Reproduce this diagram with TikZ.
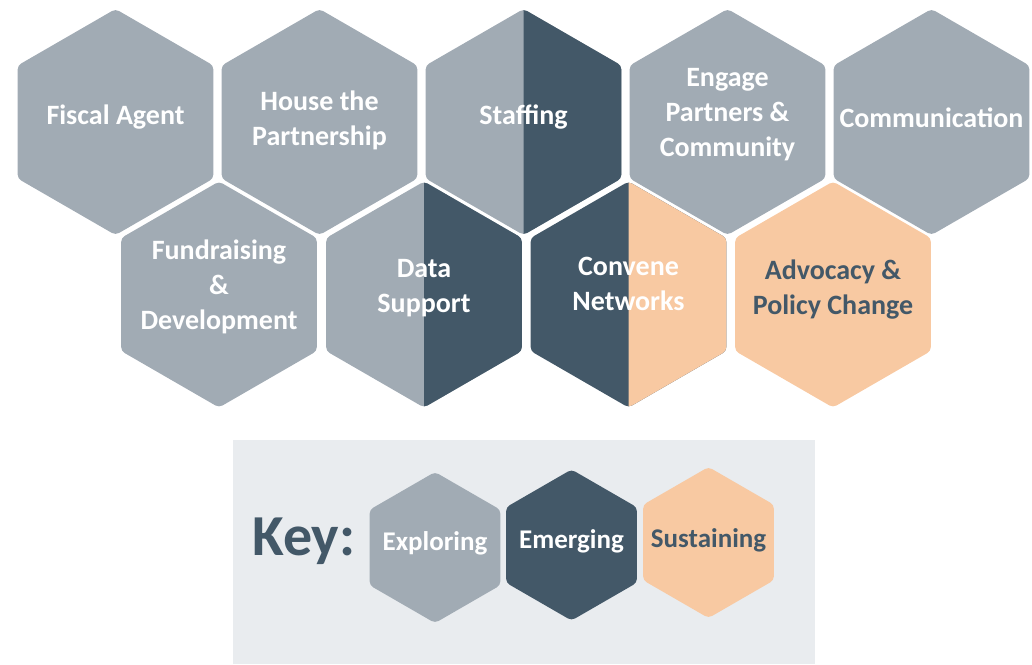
\documentclass[tikz,border=0pt]{standalone}
\usepackage{fontspec}
\setmainfont{Carlito}
\definecolor{explore}{RGB}{161,171,180}
\definecolor{emerge}{RGB}{67,88,104}
\definecolor{sustain}{RGB}{248,201,162}
\definecolor{keybg}{RGB}{233,236,239}
% one pointy hexagon, centre (#1,#2), radius #3, colour #4
\newcommand{\hexcell}[4]{%
  \begin{scope}[shift={(#1,#2)}]
    \fill[#4,rounded corners=4] (90:#3) -- (30:#3) -- (-30:#3) -- (-90:#3) -- (-150:#3) -- (150:#3) -- cycle;
  \end{scope}}
% hexagon with left half #4 and right half #5
\newcommand{\halfcell}[5]{%
  \hexcell{#1}{#2}{#3}{#4}
  \begin{scope}
    \clip (#1,#2-#3-5) rectangle (#1+#3+5,#2+#3+5);
    \hexcell{#1}{#2}{#3}{#5}
  \end{scope}}
\begin{document}
\begin{tikzpicture}[x=1pt,y=-1pt,
  lbl/.style={align=center,text=white,font=\fontsize{28}{35}\selectfont\bfseries},
  klbl/.style={text=white,font=\fontsize{27}{30}\selectfont\bfseries}]
\useasboundingbox (0,0) rectangle (1032,664);
% top row
\hexcell{115.5}{122}{113}{explore}
\hexcell{319.5}{122}{113}{explore}
\halfcell{523.5}{122}{113}{explore}{emerge}
\hexcell{727.5}{122}{113}{explore}
\hexcell{931.5}{122}{113}{explore}
% bottom row
\hexcell{219}{294.5}{113}{explore}
\halfcell{424}{294.5}{113}{explore}{emerge}
\halfcell{628.5}{294.5}{113}{emerge}{sustain}
\hexcell{833}{294.5}{113}{sustain}
\node[lbl] (fiscal) at (115.5,117) {Fiscal Agent};
\node[lbl] (house) at (319.5,120) {House the\\Partnership};
\node[lbl] (staff) at (523.5,117) {Staffing};
\node[lbl] (engage) at (727.5,115) {Engage\\Partners \&\\Community};
\node[lbl] (comm) at (931.5,118) {Communication};
\node[lbl] (fund) at (219,287) {Fundraising\\\&\\Development};
\node[lbl] (data) at (424,288) {Data\\Support};
\node[lbl] (convene) at (628.5,284) {Convene\\Networks};
\node[lbl,text=emerge] (advocacy) at (833,290) {Advocacy \&\\Policy Change};
% key
\fill[keybg] (233,440) rectangle (815,664);
\node[text=emerge,font=\fontsize{58}{60}\selectfont\bfseries] (key) at (304,541) {Key:};
\hexcell{435}{547.5}{75.5}{explore}
\hexcell{571.5}{545}{75.5}{emerge}
\hexcell{708.5}{542.5}{75.5}{sustain}
\node[klbl] (exploring) at (435,543) {Exploring};
\node[klbl] (emerging) at (571.5,541) {Emerging};
\node[klbl,text=emerge] (sustaining) at (708.5,540) {Sustaining};
\end{tikzpicture}
\end{document}
